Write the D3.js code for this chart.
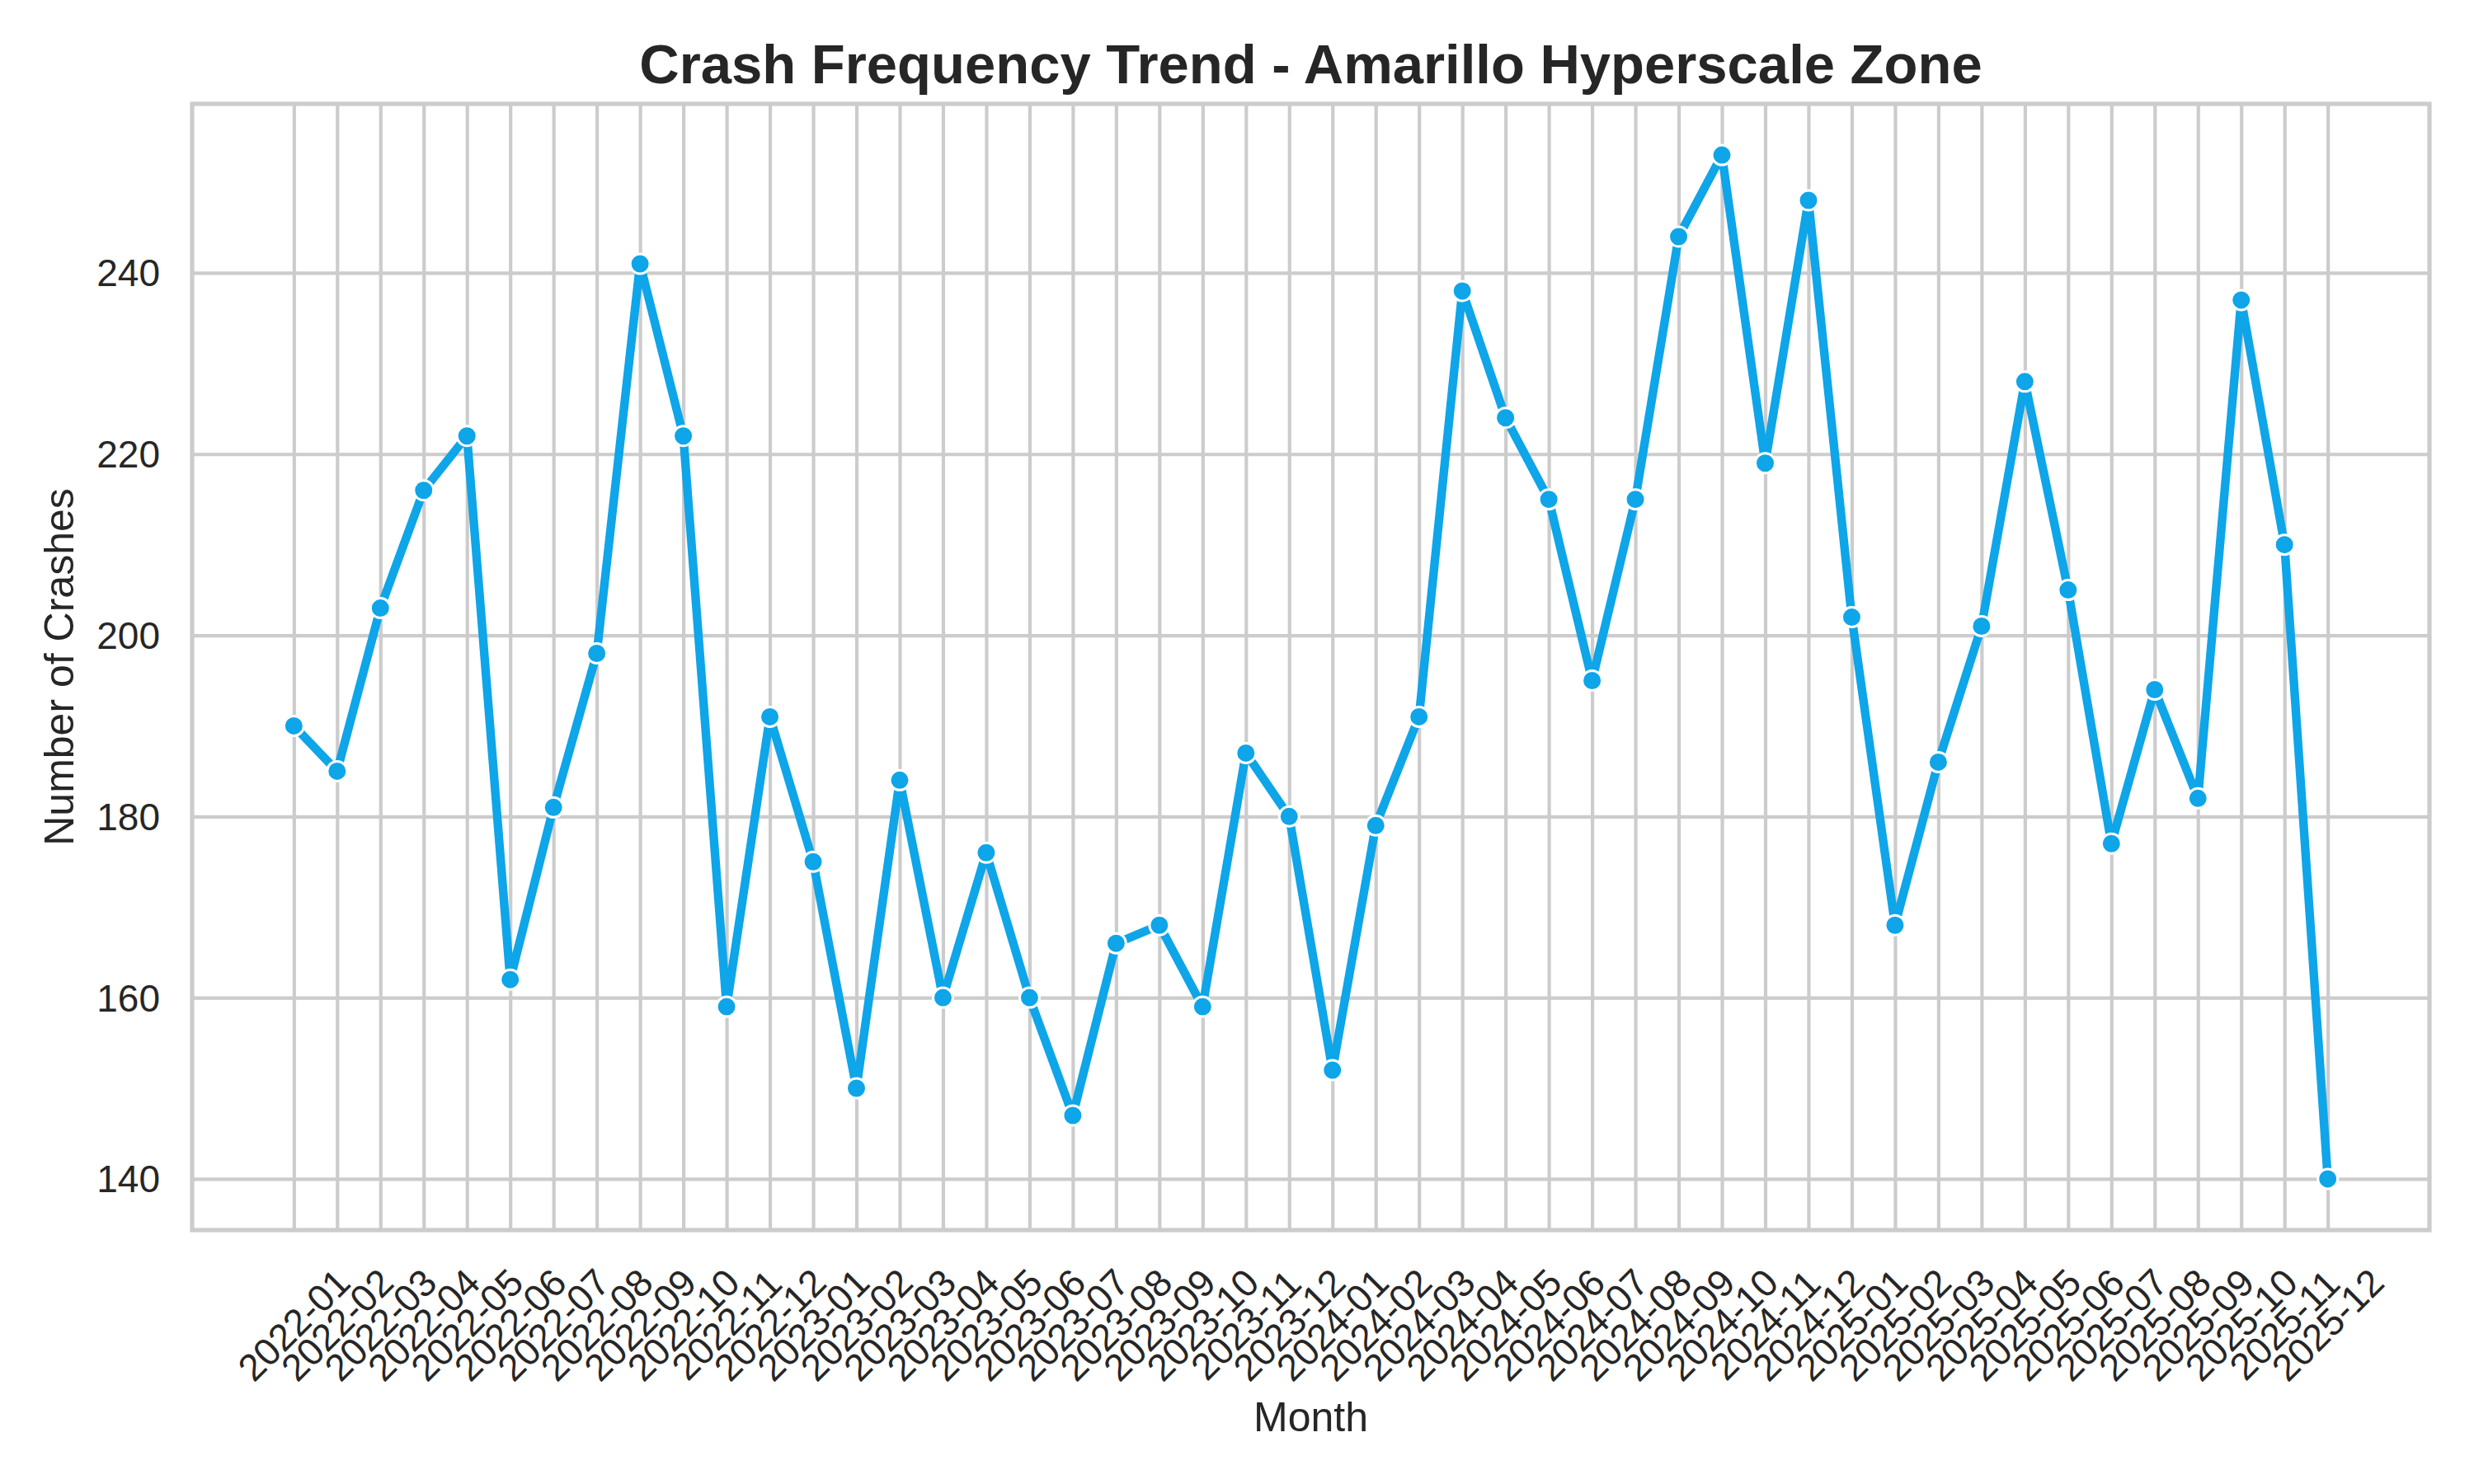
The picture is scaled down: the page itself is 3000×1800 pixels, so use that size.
<!DOCTYPE html>
<html>
<head>
<meta charset="utf-8">
<script src="https://cdn.jsdelivr.net/npm/d3@7"></script>
<style>
  html, body { margin: 0; padding: 0; background: #ffffff; }
  svg { display: block; }
  text { font-family: "Liberation Sans", Arial, Helvetica, sans-serif; fill: #262626; }
</style>
</head>
<body>
<svg id="chart" width="3000" height="1800"></svg>
<script>
const months = [
  "2022-01","2022-02","2022-03","2022-04","2022-05","2022-06","2022-07","2022-08","2022-09","2022-10","2022-11","2022-12",
  "2023-01","2023-02","2023-03","2023-04","2023-05","2023-06","2023-07","2023-08","2023-09","2023-10","2023-11","2023-12",
  "2024-01","2024-02","2024-03","2024-04","2024-05","2024-06","2024-07","2024-08","2024-09","2024-10","2024-11","2024-12",
  "2025-01","2025-02","2025-03","2025-04","2025-05","2025-06","2025-07","2025-08","2025-09","2025-10","2025-11","2025-12"
];
const crashes = [
  190,185,203,216,222,162,181,198,241,222,159,191,
  175,150,184,160,176,160,147,166,168,159,187,180,
  152,179,191,238,224,215,195,215,244,253,219,248,
  202,168,186,201,228,205,177,194,182,237,210,140
];
const yTicks = [140,160,180,200,220,240];
const titleText = "Crash Frequency Trend - Amarillo Hyperscale Zone";
const xLabel = "Month";
const yLabel = "Number of Crashes";

(function () {
const W = 3000, H = 1800;
const pL = 233, pR = 2946, pT = 126, pB = 1492;
const lineColor = "#0EA5E9";
const gridColor = "#cccccc";

const svg = d3.select("#chart");
svg.append("rect").attr("width", W).attr("height", H).attr("fill", "#ffffff");

// matplotlib-style 5% margins
const n = months.length;
const xPad = (n - 1) * 0.05;
const yMin = d3.min(crashes), yMax = d3.max(crashes);
const yPad = (yMax - yMin) * 0.05;

const x = d3.scaleLinear().domain([-xPad, n - 1 + xPad]).range([pL, pR]);
const y = d3.scaleLinear().domain([yMin - yPad, yMax + yPad]).range([pB, pT]);

// Grid
const gx = svg.append("g").attr("transform", `translate(0,${pB})`)
  .call(d3.axisBottom(x).tickValues(d3.range(n)).tickSize(-(pB - pT)).tickFormat(""));
gx.select(".domain").remove();
gx.selectAll("line").attr("stroke", gridColor).attr("stroke-width", 4.2);

const gy = svg.append("g").attr("transform", `translate(${pL},0)`)
  .call(d3.axisLeft(y).tickValues(yTicks).tickSize(-(pR - pL)).tickFormat(""));
gy.select(".domain").remove();
gy.selectAll("line").attr("stroke", gridColor).attr("stroke-width", 4.2);

// Y tick labels
const yl = svg.append("g").attr("transform", `translate(194,0)`)
  .call(d3.axisLeft(y).tickValues(yTicks).tickSize(0).tickPadding(0).tickFormat(d3.format("d")));
yl.select(".domain").remove();
yl.selectAll("text")
  .attr("x", 0).attr("dy", null)
  .attr("dominant-baseline", "central")
  .attr("text-anchor", "end")
  .style("font-size", "46px")
  .attr("fill", "#262626");

// X tick labels (rotated 45°, centered on tick)
const xl = svg.append("g")
  .call(d3.axisBottom(x).tickValues(d3.range(n)).tickSize(0).tickFormat(i => months[i]));
xl.select(".domain").remove();
xl.selectAll(".tick").attr("transform", d => `translate(${x(d)},1607)`);
xl.selectAll("text")
  .attr("x", 0).attr("y", 0).attr("dy", null)
  .attr("dominant-baseline", "central")
  .attr("text-anchor", "middle")
  .attr("transform", "rotate(-45)")
  .style("font-size", "46px")
  .attr("fill", "#262626");

// Line
const line = d3.line().x((d, i) => x(i)).y(d => y(d));
svg.append("path")
  .datum(crashes)
  .attr("d", line)
  .attr("fill", "none")
  .attr("stroke", lineColor)
  .attr("stroke-width", 10.4)
  .attr("stroke-linejoin", "round")
  .attr("stroke-linecap", "square");

// Markers
svg.append("g").selectAll("circle")
  .data(crashes)
  .join("circle")
  .attr("cx", (d, i) => x(i))
  .attr("cy", d => y(d))
  .attr("r", 12)
  .attr("fill", lineColor)
  .attr("stroke", "#ffffff")
  .attr("stroke-width", 3);

// Spines
svg.append("rect")
  .attr("x", pL).attr("y", pT)
  .attr("width", pR - pL).attr("height", pB - pT)
  .attr("fill", "none")
  .attr("stroke", gridColor)
  .attr("stroke-width", 5.2);

// Title
svg.append("text")
  .attr("x", (pL + pR) / 2).attr("y", 101)
  .attr("text-anchor", "middle")
  .style("font-size", "67px")
  .style("font-weight", "bold")
  .text(titleText);

// Axis labels
svg.append("text")
  .attr("x", (pL + pR) / 2).attr("y", 1736)
  .attr("text-anchor", "middle")
  .style("font-size", "50px")
  .text(xLabel);

svg.append("text")
  .attr("transform", `translate(89,${(pT + pB) / 2}) rotate(-90)`)
  .attr("text-anchor", "middle")
  .style("font-size", "50px")
  .text(yLabel);
})();
</script>
</body>
</html>
